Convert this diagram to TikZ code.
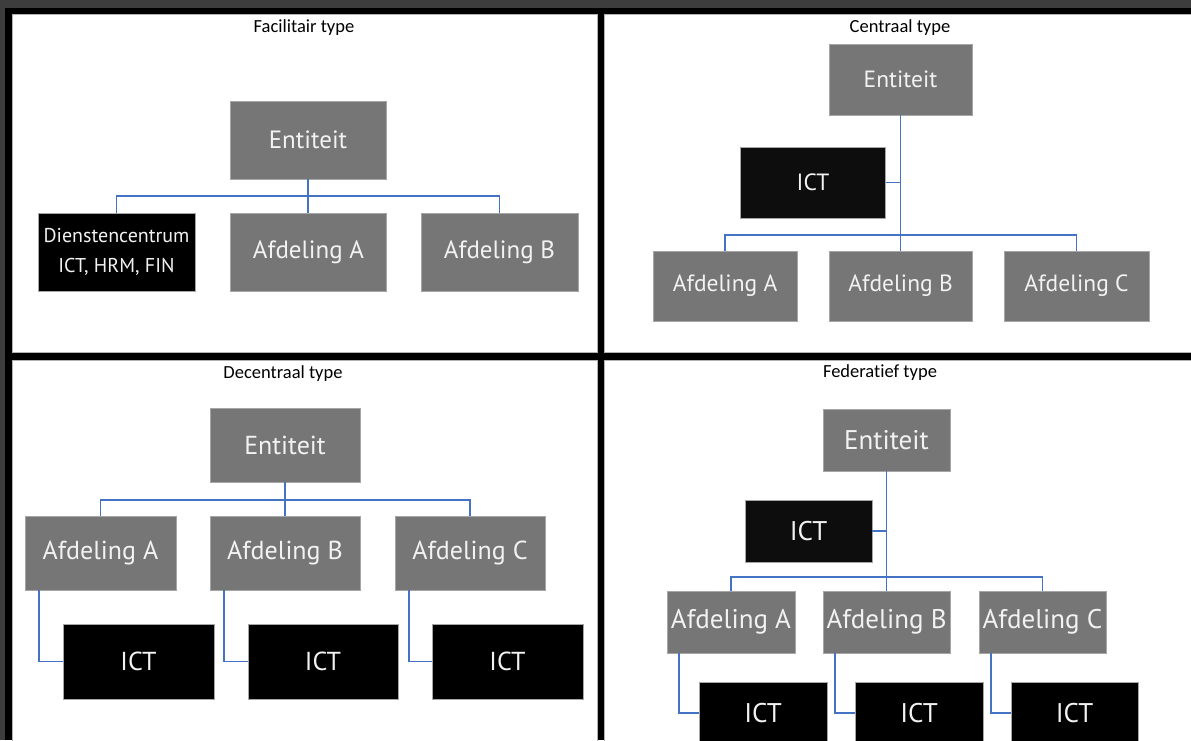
\documentclass[tikz,border=0pt]{standalone}
\usepackage{fontspec}
\setmainfont{Carlito}[Ligatures=NoCommon]
\newfontfamily\boxfont{PT Sans}
\definecolor{bggray}{HTML}{3D3D3D}
\definecolor{boxgray}{HTML}{767676}
\definecolor{edgegray}{HTML}{A6A6A6}
\definecolor{boxtext}{HTML}{F2F2F2}
\definecolor{linkblue}{HTML}{4472C4}
\definecolor{ictblack}{HTML}{0D0D0D}
\tikzset{
  gbox/.style={rectangle, fill=boxgray, draw=edgegray, line width=0.6pt, inner sep=0pt, text=boxtext, align=center},
  kbox/.style={gbox, fill=black},
  kboxl/.style={gbox, fill=ictblack},
  sz/.style 2 args={minimum width=#1pt, minimum height=#2pt},
  fa/.style={font=\boxfont\fontsize{25}{30}\selectfont},
  fb/.style={font=\boxfont\fontsize{23.5}{28}\selectfont},
  fc/.style={font=\boxfont\fontsize{26}{30}\selectfont},
  fd/.style={font=\boxfont\fontsize{27}{30}\selectfont},
  conn/.style={draw=linkblue, line width=1.8pt},
  ttl/.style={font=\fontsize{18.5}{20}\selectfont, text=black, inner sep=0pt},
  panel/.style={fill=white, draw=gray!60, line width=0.6pt}
}
\begin{document}
\begin{tikzpicture}[x=1pt,y=-1pt]
\useasboundingbox (0,0) rectangle (1191,740);
\clip (0,0) rectangle (1191,740);
% background and frame
\fill[bggray] (0,0) rectangle (1191,740);
\fill[black] (4.5,7.5) rectangle (1191,740);
\filldraw[panel] (12,14.5) rectangle (597,352.5);
\filldraw[panel] (604.5,14.5) rectangle (1192,352.5);
\filldraw[panel] (12,360.5) rectangle (597,741);
\filldraw[panel] (604.5,360.5) rectangle (1192,741);

% ---------- Panel 1: Facilitair type ----------
\node[ttl] (t1) at (304,28) {Facilitair type};
\node[gbox, fa, sz={156}{78}] (p1e) at (308,140) {Entiteit};
\node[kbox, font=\boxfont\fontsize{20}{30}\selectfont, sz={157}{78}] (p1d) at (116.5,252) {Dienstencentrum\\ICT, HRM, FIN};
\node[gbox, fa, sz={156}{78}] (p1a) at (308.5,252) {Afdeling A};
\node[gbox, fa, sz={157}{78}] (p1b) at (499.5,252) {Afdeling B};
\coordinate (p1bar) at (308,196);
\draw[conn] (p1e.south) -- (p1e.south |- p1a.north);
\draw[conn] (p1d.north) |- (p1bar) -| (p1b.north);

% ---------- Panel 2: Centraal type ----------
\node[ttl] (t2) at (900,28) {Centraal type};
\node[gbox, fb, sz={143}{71}] (p2e) at (900.5,79.5) {Entiteit};
\node[kboxl, fb, sz={145}{71}] (p2i) at (813,182.5) {ICT};
\node[gbox, fb, sz={144}{70}] (p2a) at (725,286) {Afdeling A};
\node[gbox, fb, sz={143}{70}] (p2b) at (900.5,286) {Afdeling B};
\node[gbox, fb, sz={145}{70}] (p2c) at (1076.5,286) {Afdeling C};
\coordinate (p2bar) at (900.5,235);
\draw[conn] (p2e.south) -- (p2b.north);
\draw[conn] (p2i.east) -- (p2i.east -| p2e.south);
\draw[conn] (p2a.north) |- (p2bar) -| (p2c.north);

% ---------- Panel 3: Decentraal type ----------
\node[ttl] (t3) at (283,374) {Decentraal type};
\node[gbox, fc, sz={150}{74}] (p3e) at (285,445) {Entiteit};
\node[gbox, fc, sz={151}{74}] (p3a) at (100.5,553) {Afdeling A};
\node[gbox, fc, sz={150}{74}] (p3b) at (285,553) {Afdeling B};
\node[gbox, fc, sz={150}{74}] (p3c) at (470,553) {Afdeling C};
\node[kbox, fc, sz={151}{75}] (p3ia) at (138.5,661.5) {ICT};
\node[kbox, fc, sz={150}{75}] (p3ib) at (323,661.5) {ICT};
\node[kbox, fc, sz={151}{75}] (p3ic) at (507.5,661.5) {ICT};
\coordinate (p3bar) at (285,500);
\draw[conn] (p3e.south) -- (p3b.north);
\draw[conn] (p3a.north) |- (p3bar) -| (p3c.north);
\draw[conn] ([xshift=14.5pt]p3a.south west) |- (p3ia.west);
\draw[conn] ([xshift=14.5pt]p3b.south west) |- (p3ib.west);
\draw[conn] ([xshift=14.5pt]p3c.south west) |- (p3ic.west);

% ---------- Panel 4: Federatief type ----------
\node[ttl] (t4) at (880,373) {Federatief type};
\node[gbox, fd, sz={127}{62}] (p4e) at (886.5,440) {Entiteit};
\node[kboxl, fd, sz={127}{62}] (p4i) at (808.5,531) {ICT};
\node[gbox, fd, sz={128}{62}] (p4a) at (731,622) {Afdeling A};
\node[gbox, fd, sz={127}{62}] (p4b) at (886.5,622) {Afdeling B};
\node[gbox, fd, sz={127}{62}] (p4c) at (1042.5,622) {Afdeling C};
\node[kbox, fd, sz={128}{62}] (p4ia) at (763,713) {ICT};
\node[kbox, fd, sz={128}{62}] (p4ib) at (919,713) {ICT};
\node[kbox, fd, sz={127}{62}] (p4ic) at (1074.5,713) {ICT};
\coordinate (p4bar) at (886.5,577);
\draw[conn] (p4e.south) -- (p4b.north);
\draw[conn] (p4i.east) -- (p4i.east -| p4e.south);
\draw[conn] (p4a.north) |- (p4bar) -| (p4c.north);
\draw[conn] ([xshift=12pt]p4a.south west) |- (p4ia.west);
\draw[conn] ([xshift=12pt]p4b.south west) |- (p4ib.west);
\draw[conn] ([xshift=12pt]p4c.south west) |- (p4ic.west);
\end{tikzpicture}
\end{document}
